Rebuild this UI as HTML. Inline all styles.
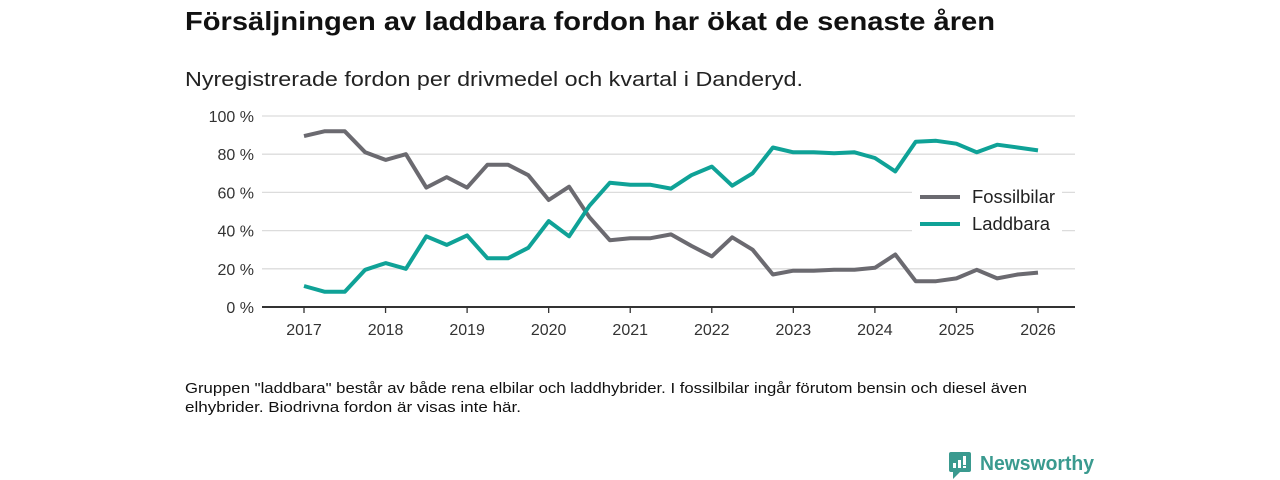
<!DOCTYPE html>
<html><head><meta charset="utf-8"><style>
html,body{margin:0;padding:0;background:#fff;}
svg{display:block;font-family:"Liberation Sans",sans-serif;}
</style></head><body>
<svg id="chart" width="1280" height="480" viewBox="0 0 1280 480" xmlns="http://www.w3.org/2000/svg">
<text x="185" y="30" font-size="26" font-weight="bold" fill="#111" textLength="810" lengthAdjust="spacingAndGlyphs">Försäljningen av laddbara fordon har ökat de senaste åren</text>
<text x="185" y="86" font-size="20" fill="#222" textLength="618" lengthAdjust="spacingAndGlyphs">Nyregistrerade fordon per drivmedel och kvartal i Danderyd.</text>
<g id="grid"></g>
<g id="yticks"></g>
<g id="xticks"></g>
<g id="lines"></g>
<g>
<rect x="912" y="180" width="150" height="60" fill="#fff"/>
<g>
<line x1="920" y1="197" x2="960" y2="197" stroke="#6b6a70" stroke-width="4"/>
<text x="972" y="203" font-size="18" fill="#222" textLength="83" lengthAdjust="spacingAndGlyphs">Fossilbilar</text></g>
<g>
<line x1="920" y1="224" x2="960" y2="224" stroke="#0fa297" stroke-width="4"/>
<text x="972" y="230" font-size="18" fill="#222" textLength="78" lengthAdjust="spacingAndGlyphs">Laddbara</text></g>
</g>
<text x="185" y="393" font-size="14.5" fill="#111" textLength="842" lengthAdjust="spacingAndGlyphs">Gruppen "laddbara" består av både rena elbilar och laddhybrider. I fossilbilar ingår förutom bensin och diesel även</text>
<text x="185" y="412" font-size="14.5" fill="#111" textLength="336" lengthAdjust="spacingAndGlyphs">elhybrider. Biodrivna fordon är visas inte här.</text>
<g>
<rect x="949" y="452" width="22" height="20" rx="2" fill="#3a9a8f"/>
<polygon points="953,472 960,472 953,479" fill="#3a9a8f"/>
<rect x="953" y="463" width="3" height="5" fill="#fff"/><rect x="958" y="460" width="3" height="8" fill="#fff"/><rect x="963" y="456" width="3" height="9" fill="#fff"/><rect x="963" y="466" width="3" height="2" fill="#fff"/>
<text x="980" y="470" font-size="20" font-weight="bold" fill="#3a9a8f" textLength="114" lengthAdjust="spacingAndGlyphs">Newsworthy</text>
</g>
</svg>
<script>
const years = [2017,2018,2019,2020,2021,2022,2023,2024,2025,2026];
const yTicks = [0,20,40,60,80,100];
const yTickLabels = ["0 %","20 %","40 %","60 %","80 %","100 %"];
const fossil = [89.5,92,92,81,77,80,62.5,68,62.5,74.5,74.5,69,56,63,47,35,36,36,38,32,26.5,36.5,30,17,19,19,19.5,19.5,20.5,27.5,13.5,13.5,15,19.5,15,17,18];
const laddbara = [11,8,8,19.5,23,20,37,32.5,37.5,25.5,25.5,31,45,37,53,65,64,64,62,69,73.5,63.5,70,83.5,81,81,80.5,81,78,71,86.5,87,85.5,81,85,83.5,82];
const startYear = 2017;

const NS="http://www.w3.org/2000/svg";
const x0=304, x1=1038, y0=307, y1=116;
const xs = t => x0 + (t-2017)/(2026-2017)*(x1-x0);
const ys = v => y0 - v/100*(y0-y1);
function mk(tag, attrs, parent){const e=document.createElementNS(NS,tag);for(const k in attrs)e.setAttribute(k,attrs[k]);document.getElementById(parent).appendChild(e);return e;}

yTicks.forEach((v,i)=>{
  if(v>0){const g=mk('line',{x1:262,x2:1075,y1:ys(v),y2:ys(v),stroke:'#dcdcdc','stroke-width':1.3},'grid');
  
  }
  const t=mk('text',{x:254,y:ys(v)+6,'font-size':16,fill:'#333','text-anchor':'end'},'yticks');
  t.textContent=yTickLabels[i];
  
  
});
const ax=mk('line',{x1:262,x2:1075,y1:y0,y2:y0,stroke:'#333','stroke-width':2},'xticks');


years.forEach(yr=>{
  const tk=mk('line',{x1:xs(yr),x2:xs(yr),y1:y0,y2:y0+6,stroke:'#333','stroke-width':1.3},'xticks');
  
  
  const t=mk('text',{x:xs(yr),y:335,'font-size':16,fill:'#333','text-anchor':'middle'},'xticks');
  t.textContent=yr;
  
  
});
function line(data,color,name){
  const d=data.map((v,i)=>(i?'L':'M')+xs(startYear+i/4).toFixed(1)+','+ys(v).toFixed(1)).join(' ');
  const p=mk('path',{d:d,fill:'none',stroke:color,'stroke-width':4,'stroke-linejoin':'round'},'lines');
  
  
}
line(fossil,'#6b6a70','line-fossilbilar');
line(laddbara,'#0fa297','line-laddbara');
</script>
</body></html>
